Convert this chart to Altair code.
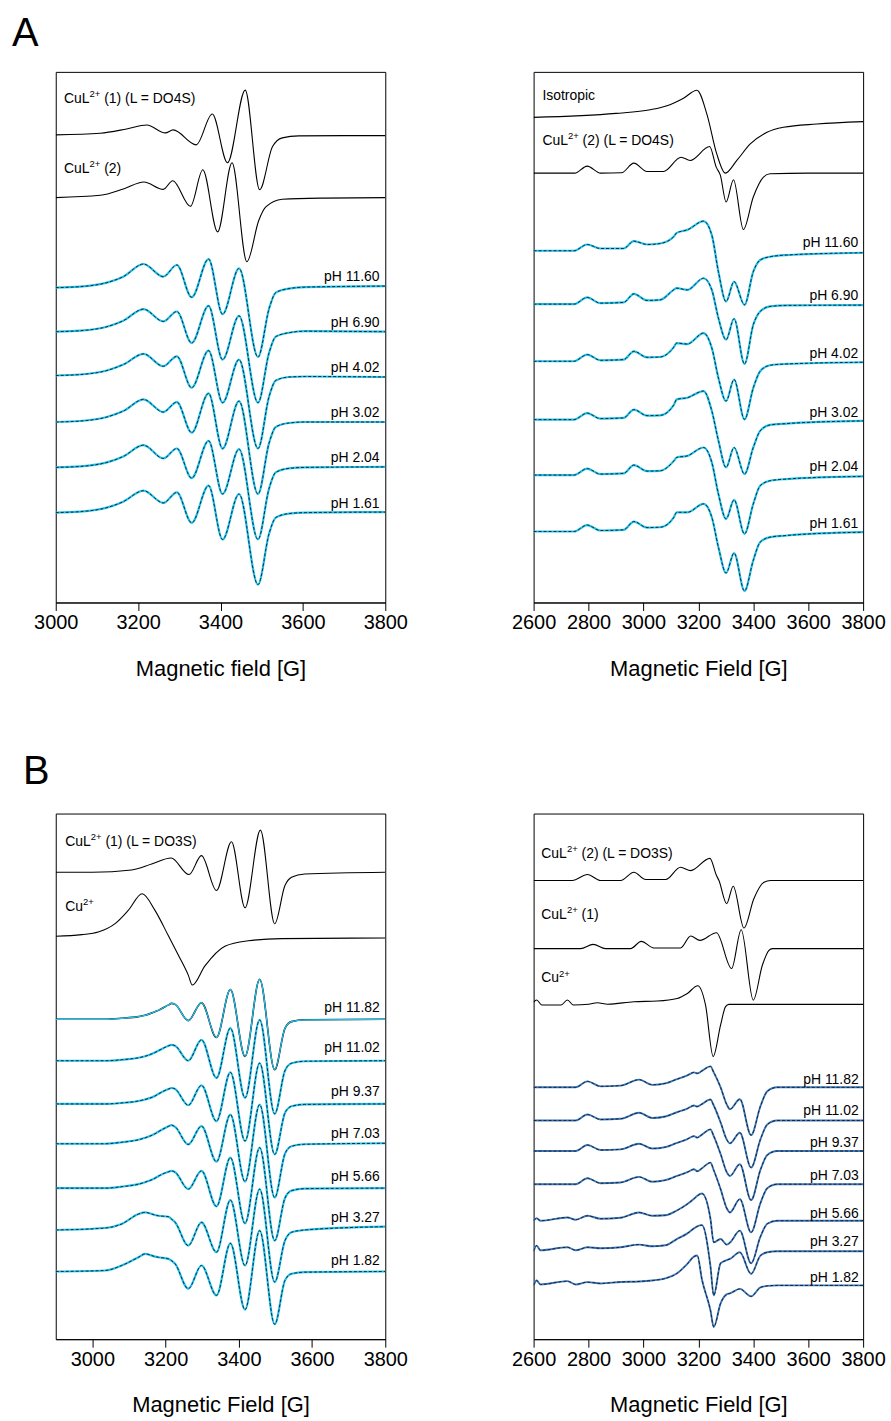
import altair as alt
import pandas as pd

FONT = "Liberation Sans, Arial, Helvetica, sans-serif"
CYAN = "#1fc3f2"
BLUE = "#3a78c0"

W = 331
H_A = 533
H_B = 528

# ===================== Panel A, left (DO4S, 3000-3800 G) =====================
AL_S1_F = [3000, 3108, 3172, 3221, 3266, 3285, 3341, 3380, 3417, 3460, 3495, 3526, 3550, 3590, 3700, 3800]
AL_S1_D = [0, 1.7, 6, 10, 2, 5, -10, 21, -28, 45, -55, -12, -3, -1, -0.7, -0.7]
AL_S1_BASE = 469.7
AL_S2_F = [3000, 3108, 3166, 3214, 3261, 3284, 3327, 3357, 3393, 3428, 3464, 3493, 3510, 3550, 3650, 3800]
AL_S2_D = [0, 2.3, 9, 15.7, 8.3, 17, -8.7, 28, -34.4, 35, -64.4, -22.7, -9.4, -1.7, -0.5, 0]
AL_S2_BASE = 406.7

AL_PH_NAMES = ["pH 11.60", "pH 6.90", "pH 4.02", "pH 3.02", "pH 2.04", "pH 1.61"]
AL_PH_BASE = [317.3, 273, 229, 182.3, 136.7, 91.3]
AL_PH_F = [3000, 3060, 3124, 3164, 3213, 3261, 3294, 3330, 3371, 3405, 3445, 3491, 3518, 3534, 3566, 3606, 3800]
AL_PH_D = [
    [-1, 0, 4, 10, 22.7, 10, 21.7, -10.7, 27.7, -27.7, 18.3, -70.7, -22, -6, -2, -0.5, 0.5],
    [-1, 0, 4, 10, 21.7, 9.3, 19.3, -12.3, 25, -29, 15, -72.3, -22, -6, -2, -0.5, -1],
    [-1, 0, 4, 10, 20.7, 8.3, 18.3, -13.3, 24, -28.3, 15, -74.3, -22, -6, -2.5, -2, -2.5],
    [-1, 0, 4, 10, 21.7, 9, 19, -11.7, 27.7, -27.7, 20, -73.3, -22, -6, -2, -1, -1],
    [-1, 0, 4, 10, 21.3, 8, 18, -11.7, 25.7, -27.7, 17.3, -73.3, -22, -6, -2, -1, -0.5],
    [-1, 0, 4, 10, 21, 8.7, 19.3, -11.3, 26, -28, 17.7, -73.3, -22, -6, -2, -1, -0.5],
]
AL_LABEL_X = 3786
AL_LABEL_Y = [326.7, 280.7, 235.7, 190.7, 144.7, 99]
AL_TOP_PRE = ["CuL", "CuL"]
AL_TOP_SUP = ["2+", "2+"]
AL_TOP_POST = ["(1) (L = DO4S)", "(2)"]
AL_TOP_X = [3020, 3020]
AL_TOP_Y = [505.3, 435]

# ===================== Panel A, right (DO4S, 2600-3800 G) =====================
AR_ISO_F = [2600, 2900, 3025, 3086, 3146, 3195, 3231, 3267, 3298, 3340, 3389, 3450, 3510, 3631, 3800]
AR_ISO_D = [0, 4, 7.7, 11.7, 19.3, 27.3, 3.3, -36.7, -56, -43.3, -26.7, -15, -10, -6.7, -4.3]
AR_ISO_BASE = 487.3
AR_S2_F = [2600, 2750, 2795, 2844, 2920, 2965, 3013, 3073, 3137, 3170, 3241, 3265, 3280, 3301, 3328, 3364, 3400, 3437, 3461, 3600, 3800]
AR_S2_D = [0, 0, 7, 0, 0.3, 10, 1.7, 1.7, 16, 12.7, 26.7, 6, -2, -29, -6.7, -56.7, -24, -4, -0.7, 0, 0]
AR_S2_BASE = 431.3

AR_PH_NAMES = ["pH 11.60", "pH 6.90", "pH 4.02", "pH 3.02", "pH 2.04", "pH 1.61"]
AR_PH_BASE = [353.3, 299.7, 242.3, 183.7, 128, 71.3]
AR_PH_F = [2600, 2747, 2795, 2843, 2928, 2965, 3013, 3061, 3110, 3121, 3160, 3219, 3249, 3273, 3301, 3330, 3368, 3400, 3425, 3461, 3521, 3800]
AR_PH_D = [
    [0, 0, 6.3, 2.3, 2.3, 9.7, 6.3, 7.3, 14, 18, 21, 29.7, 15.7, -21, -51, -31, -54.3, -21, -9.3, -6, -4.3, -2],
    [0, 0, 6.7, 1, 1.7, 10.3, 3.7, 4.3, 14.3, 16, 14.3, 26, 14.3, -14, -35.7, -14.7, -60, -20.7, -7.3, -2.3, -1.3, -1],
    [0, 0, 6.7, 1, 1.7, 10, 4, 4.3, 14, 18.3, 17.3, 28.3, 13.3, -16.7, -40, -18.3, -58.3, -26.7, -10, -4, -2.7, -1],
    [0, 0, 6.5, 1, 1.7, 10, 4, 4.3, 14.5, 20.3, 22, 28.7, 8.7, -21, -48, -28, -54.7, -28, -11.3, -5.3, -4, -1.3],
    [0, 0, 6.5, 1, 1.7, 10, 4, 4.3, 14, 17.7, 19.3, 27.7, 12.7, -19, -44, -25, -59, -29, -10.7, -5.7, -4, -1.3],
    [0, 0, 6.5, 1, 1.7, 10, 4, 4.3, 14, 19.3, 19.3, 27.7, 14.3, -15.7, -41.7, -21.7, -59.7, -29, -10.7, -5.7, -4, -0.7],
]
AR_LABEL_X = 3782
AR_LABEL_Y = [360.7, 308, 249.7, 190.7, 135.7, 79]
AR_TOP_PRE = ["Isotropic", "CuL"]
AR_TOP_SUP = ["", "2+"]
AR_TOP_POST = ["", "(2) (L = DO4S)"]
AR_TOP_X = [2632, 2632]
AR_TOP_Y = [509, 464]

# ===================== Panel B, left (DO3S, 2900-3800 G) =====================
BL_S1_F = [2900, 3000, 3107, 3162, 3215, 3264, 3298, 3339, 3380, 3417, 3459, 3498, 3526, 3544, 3580, 3800]
BL_S1_D = [0, 0, 2.3, 8.3, 14.3, -2.3, 16.7, -18.3, 30.7, -35.7, 42.3, -51.7, -13.3, -5, -1.7, 0]
BL_S1_BASE = 469
BL_CU_F = [2900, 2971, 3016, 3062, 3098, 3136, 3171, 3207, 3235, 3262, 3273, 3307, 3362, 3426, 3517, 3800]
BL_CU_D = [0, 1.7, 4.3, 12.7, 26, 42.7, 26, 1, -19, -39, -49, -30, -10, -4.5, -2.3, -1.7]
BL_CU_BASE = 404.7

BL_PH_NAMES = ["pH 11.82", "pH 11.02", "pH 9.37", "pH 7.03", "pH 5.66", "pH 3.27", "pH 1.82"]
BL_PH_BASE = [321.3, 279.7, 236.3, 196.3, 151.7, 110.7, 68]
BL_PH_F = [2900, 3035, 3080, 3126, 3144, 3171, 3180, 3208, 3216, 3226, 3262, 3298, 3339, 3377, 3417, 3457, 3498, 3526, 3544, 3580, 3800]
BL_PH_D = [
    [0, 0, 1, 2.7, 4, 7.7, 9, 14.5, 16, 15, -1.3, 16.7, -18.3, 30, -37.3, 40.3, -50.7, -9, -2.3, -0.5, 0],
    [0, 0, 1, 3, 4.5, 8.3, 10, 15, 16, 15, 0, 21, -17.3, 32.7, -37.3, 41, -53.3, -10, -2.5, -0.5, 0],
    [0, 0, 1, 3, 4.5, 8, 10, 15, 16, 15, -1.3, 18.7, -17.3, 31.7, -37.3, 41, -50.7, -9, -2.3, -0.5, 0],
    [0, 0, 1.5, 4, 6, 10, 12, 17.5, 18.7, 17, -0.7, 17.7, -18, 29.3, -38, 39.3, -54, -10, -2.5, -0.5, 0.5],
    [0, 0, 1.5, 4, 6, 10, 12, 16.5, 17.3, 16, -1, 17.3, -18.3, 30.7, -35.3, 40.7, -52.7, -10, -2.5, -0.5, 0],
    [-1, 1, 5, 15, 16.7, 14, 13.3, 12.3, 10, 6.7, -16.7, 6.7, -23.3, 29, -36.7, 40, -53.3, -11.7, -3.3, -1, 2.3],
    [0, 1, 6, 14.3, 17.7, 15, 14.3, 12.7, 11, 7.7, -17.3, 6, -24, 28.3, -38.3, 41, -53, -9, -2.3, -0.7, 0],
]
BL_LABEL_X = 3785
BL_LABEL_Y = [332.3, 292.3, 248, 206.3, 163, 121.3, 79]
BL_TOP_PRE = ["CuL", "Cu"]
BL_TOP_SUP = ["2+", "2+"]
BL_TOP_POST = ["(1) (L = DO3S)", ""]
BL_TOP_X = [2926, 2926]
BL_TOP_Y = [499.7, 434]

# ===================== Panel B, right (DO3S, 2600-3800 G) =====================
BR_S2_F = [2600, 2741, 2796, 2844, 2917, 2965, 3008, 3081, 3135, 3172, 3242, 3266, 3275, 3303, 3327, 3366, 3402, 3439, 3463, 3800]
BR_S2_D = [0, 0, 6, 0, 0, 8.3, 1, 1, 13.3, 10, 22.3, 5, 0, -23.3, -5.7, -47.7, -18.3, -1.7, 0, 0]
BR_S2_BASE = 460.7
BR_S1_F = [2600, 2771, 2817, 2862, 2953, 2992, 3038, 3135, 3172, 3206, 3266, 3321, 3356, 3400, 3433, 3457, 3469, 3800]
BR_S1_D = [0, 0, 4.3, 0, 0, 7.3, 0.7, 0.7, 12.7, 8.3, 16, -20, 19, -51.7, -16.7, -1.7, 0, 0]
BR_S1_BASE = 392.3
BR_CU_F = [2600, 2611, 2630, 2700, 2723, 2745, 2800, 2832, 2870, 2965, 3050, 3123, 3160, 3198, 3226, 3254, 3281, 3299, 3311, 3800]
BR_CU_D = [1.5, 3.7, -1.3, -1.3, 3.7, -1.3, -0.5, 1, -0.5, 2, 2.7, 5.3, 10.3, 18, -1.3, -53, -21.3, -3, -0.7, -0.7]
BR_CU_BASE = 337

BR_PH_NAMES = ["pH 11.82", "pH 11.02", "pH 9.37", "pH 7.03", "pH 5.66", "pH 3.27", "pH 1.82"]
BR_PH_BASE = [253, 219.7, 189, 155.7, 119, 88.3, 54]
BR_PH_F = [2600, 2611, 2625, 2723, 2753, 2796, 2844, 2917, 2984, 3032, 3080, 3120, 3160, 3184, 3196, 3213, 3244, 3256, 3281, 3303, 3315, 3351, 3392, 3426, 3451, 3487, 3800]
BR_PH_D = [
    [0, 0, 0, 0, 0, 6, 1, 1.7, 7.7, 2.5, 4, 8, 12, 15, 14, 16.5, 21, 15, 0, -17, -22, -12, -48, -19, -4, 0, 0],
    [0, 0, 0, 0, 0, 6, 1, 1.7, 7.7, 2.5, 4, 8, 12, 15, 14, 16.5, 21, 15, -2, -19, -23, -12.3, -47.3, -19, -4, 0, 0],
    [0, 0, 0, 0, 0, 6, 1, 1.7, 7.3, 2.5, 4, 8, 12, 15, 13.5, 16.5, 21.7, 15, -3, -21, -25, -13.3, -49.3, -19, -4, 0, 0],
    [0, 0, 0, 0, 0, 6, 1, 1.7, 7.3, 2.5, 4, 8, 12, 15, 13, 16, 21.7, 14, -5, -24, -28.4, -15, -48.4, -19, -4, 0, 0],
    [0, 2.5, 0, 3.3, 1, 5, 2, 3, 8.3, 5, 5.5, 10, 16.7, 22, 25, 27.3, 2, -21.7, -18.3, -24, -22, -10, -42.7, -16, -3, 0, 0],
    [0, 5.7, 1, 4, 1, 4, 3, 4, 6.7, 5, 6, 12, 18, 23, 25, 26.3, -15, -44.3, -12, -9, -7.7, -1, -22.7, -4.3, -1, 0, 0],
    [0, 5, 1, 4.3, 1, 3.3, 2, 3.5, 4, 5, 7, 11.7, 21.7, 29, 30, 6, -25, -41.7, -18, -9, -8, -3.5, -11, -2, -0.5, 0, 0],
]
BR_LABEL_X = 3784
BR_LABEL_Y = [260.7, 229, 197.3, 164, 125.7, 97.3, 61.7]
BR_TOP_PRE = ["CuL", "CuL", "Cu"]
BR_TOP_SUP = ["2+", "2+", "2+"]
BR_TOP_POST = ["(2) (L = DO3S)", "(1)", ""]
BR_TOP_X = [2628, 2628, 2628]
BR_TOP_Y = [487.3, 426.3, 362.3]

# ---------------------------------------------------------------------------------
LABEL_FS = 14
PREFIX_W = {"CuL": 25.7, "Cu": 17.9, "Isotropic": 0.0}
SUP_W = 10.8
SPACE_W = 3.9


def build(names, bases, fields, dys):
    rows = []
    for n, b, fs, ds in zip(names, bases, fields, dys):
        for f, d in zip(fs, ds):
            rows.append({"trace": n, "field": f, "val": round(b + d, 2)})
    return pd.DataFrame(rows)


def make_panel(domain, ticks, height, xtitle, sims, exp_layers, lab, top, letter=None, letter_dx=0, letter_dy=0):
    xs = alt.Scale(domain=domain, nice=False, zero=False)
    ys = alt.Scale(domain=[0, height], nice=False, zero=False)
    ax = alt.Axis(title=xtitle, values=ticks, format="d", grid=False, labelFlush=False,
                  labelOverlap=False, tickSize=8, labelPadding=2, labelFontSize=20,
                  titleFontSize=22, titlePadding=26, labelFont=FONT, titleFont=FONT,
                  titleFontWeight="normal", domainColor="black", tickColor="black",
                  labelColor="black", titleColor="black")

    def enc(ch):
        return ch.encode(x=alt.X("field:Q", scale=xs, axis=ax),
                         y=alt.Y("val:Q", scale=ys, axis=None))

    layers = [enc(alt.Chart(sims).mark_line(color="black", strokeWidth=1.1,
                                            interpolate="monotone", clip=True)).encode(detail="trace:N")]
    for df, style in exp_layers:
        layers.append(enc(alt.Chart(df).mark_line(interpolate="monotone", clip=True, **style)).encode(detail="trace:N"))
    layers.append(enc(alt.Chart(lab).mark_text(align="right", baseline="middle", fontSize=LABEL_FS,
                                               font=FONT, color="black")).encode(text="label:N"))
    for p in top["pre"].unique():
        sub = top[top["pre"] == p]
        pw = PREFIX_W[p]
        layers.append(enc(alt.Chart(sub).mark_text(align="left", baseline="middle", fontSize=LABEL_FS,
                                                   font=FONT, color="black")).encode(text="pre:N"))
        if p != "Isotropic":
            layers.append(enc(alt.Chart(sub).mark_text(align="left", baseline="middle", fontSize=9.5,
                                                       font=FONT, color="black", dx=pw, dy=-5)).encode(text="sup:N"))
            layers.append(enc(alt.Chart(sub).mark_text(align="left", baseline="middle", fontSize=LABEL_FS,
                                                       font=FONT, color="black",
                                                       dx=pw + SUP_W + SPACE_W)).encode(text="post:N"))
    if letter:
        layers.append(alt.Chart(pd.DataFrame({"t": [letter]})).mark_text(
            align="left", baseline="alphabetic", fontSize=40, font=FONT, color="black").encode(
            x=alt.value(letter_dx), y=alt.value(letter_dy), text="t:N"))
    return alt.layer(*layers).properties(width=W, height=height)


def labels(names, x, ys):
    return pd.DataFrame({"label": names, "field": [x] * len(names), "val": ys})


def tops(pre, sup, post, xs, ys):
    return pd.DataFrame({"pre": pre, "sup": sup, "post": post, "field": xs, "val": ys})


EXP_CYAN = dict(color=CYAN, strokeWidth=2.2)
FIT_DASH = dict(color="#1a1a1a", strokeWidth=0.9, strokeDash=[3, 2])

# Panel A left
al_sims = build(["s1", "s2"], [AL_S1_BASE, AL_S2_BASE], [AL_S1_F, AL_S2_F], [AL_S1_D, AL_S2_D])
al_ph = build(AL_PH_NAMES, AL_PH_BASE, [AL_PH_F] * len(AL_PH_NAMES), AL_PH_D)
AL = make_panel([3000, 3800], [3000, 3200, 3400, 3600, 3800], H_A, "Magnetic field [G]", al_sims,
                [(al_ph, EXP_CYAN), (al_ph, FIT_DASH)],
                labels(AL_PH_NAMES, AL_LABEL_X, AL_LABEL_Y),
                tops(AL_TOP_PRE, AL_TOP_SUP, AL_TOP_POST, AL_TOP_X, AL_TOP_Y),
                letter="A", letter_dx=-44, letter_dy=-26)

# Panel A right
ar_sims = build(["iso", "s2"], [AR_ISO_BASE, AR_S2_BASE], [AR_ISO_F, AR_S2_F], [AR_ISO_D, AR_S2_D])
ar_ph = build(AR_PH_NAMES, AR_PH_BASE, [AR_PH_F] * len(AR_PH_NAMES), AR_PH_D)
AR = make_panel([2600, 3800], [2600, 2800, 3000, 3200, 3400, 3600, 3800], H_A, "Magnetic Field [G]", ar_sims,
                [(ar_ph, EXP_CYAN), (ar_ph, FIT_DASH)],
                labels(AR_PH_NAMES, AR_LABEL_X, AR_LABEL_Y),
                tops(AR_TOP_PRE, AR_TOP_SUP, AR_TOP_POST, AR_TOP_X, AR_TOP_Y))

# Panel B left
bl_sims = build(["s1", "cu"], [BL_S1_BASE, BL_CU_BASE], [BL_S1_F, BL_CU_F], [BL_S1_D, BL_CU_D])
bl_ph = build(BL_PH_NAMES, BL_PH_BASE, [BL_PH_F] * len(BL_PH_NAMES), BL_PH_D)
bl_first = bl_ph[bl_ph["trace"] == BL_PH_NAMES[0]]
bl_rest = bl_ph[bl_ph["trace"] != BL_PH_NAMES[0]]
BL = make_panel([2900, 3800], [3000, 3200, 3400, 3600, 3800], H_B, "Magnetic Field [G]", bl_sims,
                [(bl_rest, EXP_CYAN), (bl_rest, FIT_DASH),
                 (bl_first, dict(color="black", strokeWidth=1.6)),
                 (bl_first, dict(color=CYAN, strokeWidth=1.2))],
                labels(BL_PH_NAMES, BL_LABEL_X, BL_LABEL_Y),
                tops(BL_TOP_PRE, BL_TOP_SUP, BL_TOP_POST, BL_TOP_X, BL_TOP_Y),
                letter="B", letter_dx=-33, letter_dy=-30)

# Panel B right
br_sims = build(["s2", "s1", "cu"], [BR_S2_BASE, BR_S1_BASE, BR_CU_BASE], [BR_S2_F, BR_S1_F, BR_CU_F],
                [BR_S2_D, BR_S1_D, BR_CU_D])
br_ph = build(BR_PH_NAMES, BR_PH_BASE, [BR_PH_F] * len(BR_PH_NAMES), BR_PH_D)
BR = make_panel([2600, 3800], [2600, 2800, 3000, 3200, 3400, 3600, 3800], H_B, "Magnetic Field [G]", br_sims,
                [(br_ph, dict(color=BLUE, strokeWidth=1.9)), (br_ph, FIT_DASH)],
                labels(BR_PH_NAMES, BR_LABEL_X, BR_LABEL_Y),
                tops(BR_TOP_PRE, BR_TOP_SUP, BR_TOP_POST, BR_TOP_X, BR_TOP_Y))

chart = alt.concat(AL, AR, BL, BR, columns=2, spacing={"row": 212, "column": 149}, bounds="flush") \
    .configure_view(stroke="black", strokeWidth=1) \
    .properties(padding={"left": 11, "top": 10, "right": 5, "bottom": 5}, background="white")

chart.save("out.html", embed_options={"renderer": "svg", "actions": False})
